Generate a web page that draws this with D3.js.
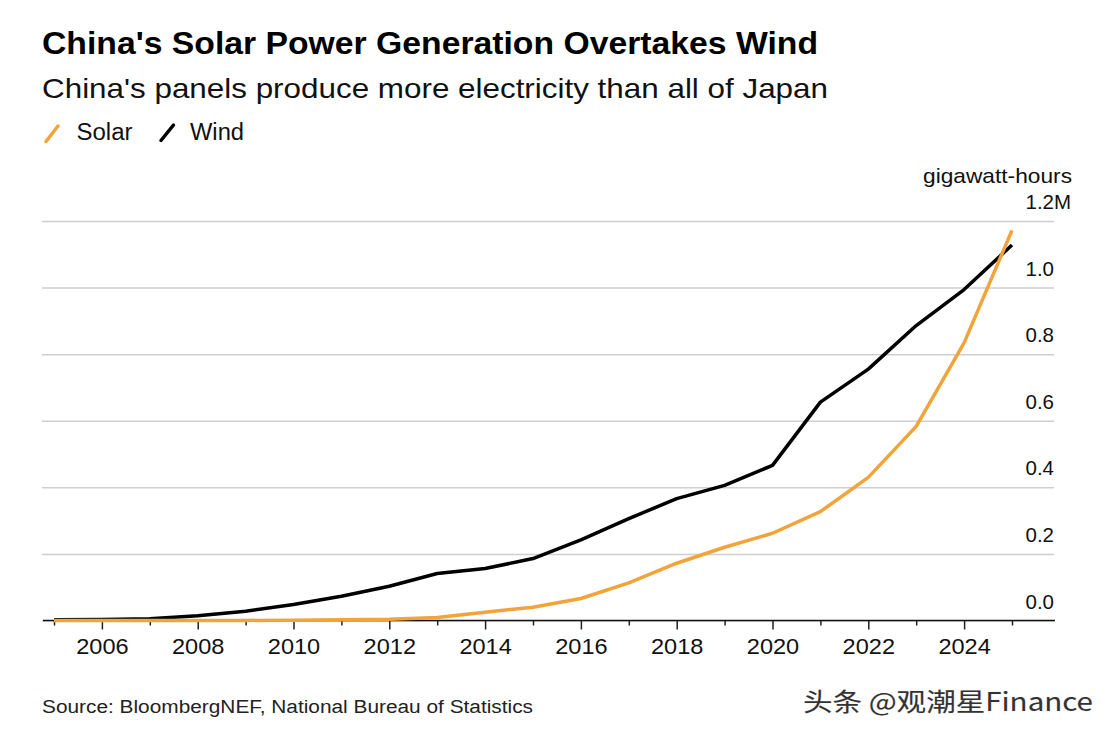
<!DOCTYPE html>
<html>
<head>
<meta charset="utf-8">
<script src="https://cdn.jsdelivr.net/npm/d3@7"></script>
<style>
  html, body { margin: 0; padding: 0; background: #fff; }
  svg { display: block; font-family: "Liberation Sans", Arial, Helvetica, sans-serif; }
</style>
</head>
<body>
<svg id="chart" width="1116" height="737"></svg>
<script>
// ---- data ----
const years = [2005, 2006, 2007, 2008, 2009, 2010, 2011, 2012, 2013, 2014, 2015,
               2016, 2017, 2018, 2019, 2020, 2021, 2022, 2023, 2024, 2025];
// million gigawatt-hours
const wind  = [0.002, 0.003, 0.0055, 0.0145, 0.028, 0.048, 0.073, 0.103, 0.141, 0.156, 0.186,
               0.242, 0.306, 0.366, 0.406, 0.466, 0.656, 0.755, 0.886, 0.994, 1.128];
const solar = [0.0001, 0.0001, 0.0001, 0.0002, 0.0003, 0.0007, 0.0026, 0.0036, 0.009, 0.025, 0.040,
               0.066, 0.113, 0.172, 0.220, 0.262, 0.327, 0.430, 0.583, 0.834, 1.172];
const seriesNames = ["Solar", "Wind"];
const yTicks = [0.0, 0.2, 0.4, 0.6, 0.8, 1.0, 1.2];
const xLabelYears = [2006, 2008, 2010, 2012, 2014, 2016, 2018, 2020, 2022, 2024];

const title = "China's Solar Power Generation Overtakes Wind";
const subtitle = "China's panels produce more electricity than all of Japan";
const unitLabel = "gigawatt-hours";
const source = "Source: BloombergNEF, National Bureau of Statistics";
const watermark = "头条 @观潮星Finance";

// ---- layout ----
const svg = d3.select("#chart");
const colors = { Solar: "#f2a33a", Wind: "#000000" };
const plotLeft = 42, plotRight = 1054;

const x = d3.scaleLinear().domain([2005, 2025]).range([54, 1012]);
const y = d3.scaleLinear().domain([0, 1.2]).range([620.5, 221]);

function fit(sel, w) {
  sel.attr("textLength", w).attr("lengthAdjust", "spacingAndGlyphs");
}

// Title, subtitle
svg.append("text").attr("x", 42).attr("y", 53.5)
  .attr("font-size", 30.5).attr("font-weight", "bold").attr("fill", "#000")
  .text(title).call(fit, 776);
svg.append("text").attr("x", 42).attr("y", 97.5)
  .attr("font-size", 28.5).attr("fill", "#111")
  .text(subtitle).call(fit, 786);

// Legend
const legend = svg.append("g");
legend.append("line").attr("x1", 46).attr("y1", 141.5).attr("x2", 58).attr("y2", 126)
  .attr("stroke", colors.Solar).attr("stroke-width", 3.5).attr("stroke-linecap", "round");
legend.append("text").attr("x", 76.5).attr("y", 140).attr("font-size", 23).attr("fill", "#111")
  .text(seriesNames[0]).call(fit, 56);
legend.append("line").attr("x1", 161).attr("y1", 140.5).attr("x2", 173.5).attr("y2", 125)
  .attr("stroke", colors.Wind).attr("stroke-width", 3.5).attr("stroke-linecap", "round");
legend.append("text").attr("x", 190).attr("y", 140).attr("font-size", 23).attr("fill", "#111")
  .text(seriesNames[1]).call(fit, 54);

// Y axis (gridlines on the right)
const yAxis = d3.axisRight(y).tickValues(yTicks)
  .tickSize(-(plotRight - plotLeft))
  .tickFormat(d => d3.format(".1f")(d));
const yg = svg.append("g").attr("transform", `translate(${plotRight},0)`).call(yAxis);
yg.select(".domain").remove();
yg.selectAll(".tick line").attr("stroke", "#cfcfcf").attr("stroke-width", 1.5);
yg.selectAll(".tick text")
  .attr("x", 0).attr("dy", null).attr("y", -12.5)
  .attr("text-anchor", "end")
  .attr("font-size", 20.5).attr("fill", "#111")
  .style("font-family", "'Liberation Sans', Arial, sans-serif");
// "M" suffix on top tick
yg.selectAll(".tick").filter(d => d === d3.max(yTicks))
  .append("text").attr("x", 0).attr("y", -12.5).attr("text-anchor", "start")
  .attr("font-size", 20.5).attr("fill", "#111")
  .style("font-family", "'Liberation Sans', Arial, sans-serif")
  .text("M");
svg.append("text").attr("x", 1072).attr("y", 183).attr("text-anchor", "end")
  .attr("font-size", 21).attr("fill", "#111").text(unitLabel).call(fit, 149);

// X axis
const xAxis = d3.axisBottom(x).tickValues(years).tickSize(5)
  .tickFormat(d => xLabelYears.includes(d) ? String(d) : "");
const xg = svg.append("g").attr("transform", `translate(0,${y(0)})`).call(xAxis);
xg.select(".domain").remove();
xg.selectAll(".tick line").attr("stroke", "#222").attr("stroke-width", 1.5)
  .attr("y2", d => xLabelYears.includes(d) ? 9 : 5);
xg.selectAll(".tick text").attr("y", 33).attr("dy", null)
  .attr("font-size", 22).attr("fill", "#111")
  .style("font-family", "'Liberation Sans', Arial, sans-serif")
  .each(function () { const w = this.getComputedTextLength(); if (w > 0) d3.select(this).call(fit, w * 1.07); });
svg.append("line").attr("x1", 43).attr("x2", 1055).attr("y1", y(0)).attr("y2", y(0))
  .attr("stroke", "#111").attr("stroke-width", 1.6);

// Lines
const line = d3.line().x(d => x(d[0])).y(d => y(d[1]));
const windData = years.map((yr, i) => [yr, wind[i]]);
const solarData = years.map((yr, i) => [yr, solar[i]]);
svg.append("path").datum(windData).attr("d", line)
  .attr("fill", "none").attr("stroke", colors.Wind).attr("stroke-width", 3.5)
  .attr("stroke-linejoin", "round");
svg.append("path").datum(solarData).attr("d", line)
  .attr("fill", "none").attr("stroke", colors.Solar).attr("stroke-width", 3.5)
  .attr("stroke-linejoin", "round");

// Source
svg.append("text").attr("x", 42).attr("y", 713).attr("font-size", 18).attr("fill", "#222")
  .text(source).call(fit, 491);

// Watermark
svg.append("text").attr("x", 803).attr("y", 711).attr("font-size", 25)
  .style("font-family", "'Noto Sans CJK SC', sans-serif")
  .attr("fill", "#333").attr("stroke", "#e6e6e6").attr("stroke-width", 0.6)
  .attr("paint-order", "stroke")
  .text(watermark).call(fit, 290);
</script>
</body>
</html>
